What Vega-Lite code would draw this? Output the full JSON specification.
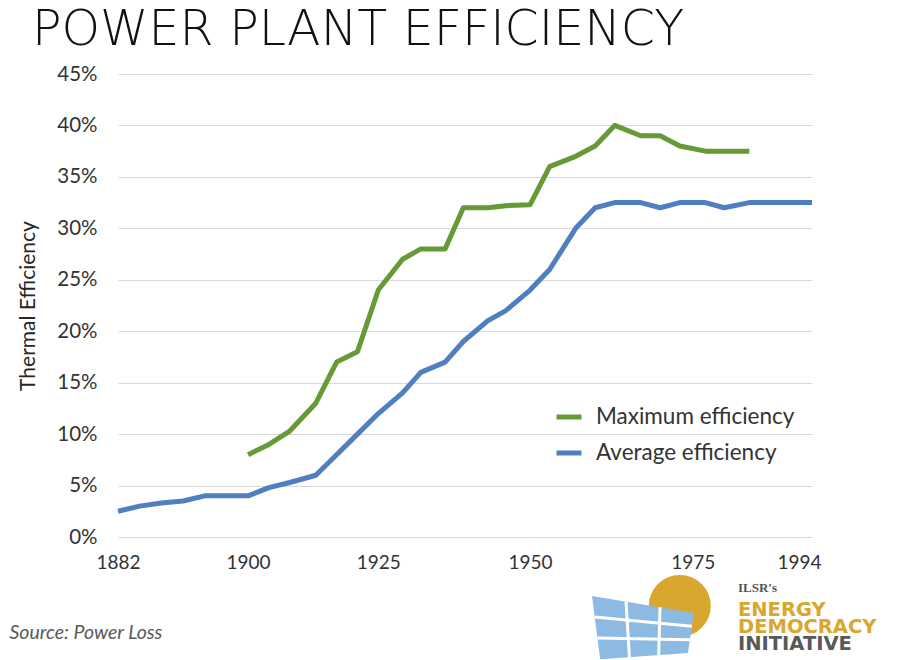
{
  "$schema": "https://vega.github.io/schema/vega-lite/v6.json",
  "width": 694,
  "height": 463,
  "autosize": {"type": "none"},
  "padding": {"left": 118, "top": 74, "right": 85, "bottom": 123},
  "background": "white",
  "config": {"view": {"stroke": null}, "font": "Lato"},
  "title": {
    "text": "POWER PLANT EFFICIENCY",
    "anchor": "start",
    "frame": "group",
    "font": "DejaVu Sans",
    "fontSize": 49,
    "fontWeight": 200,
    "color": "#111111",
    "dx": -86,
    "offset": 9
  },
  "layer": [
    {
      "data": {
        "values": [
          {"year": 1882, "series": "Average efficiency", "value": 0.025},
          {"year": 1885, "series": "Average efficiency", "value": 0.030},
          {"year": 1888, "series": "Average efficiency", "value": 0.033},
          {"year": 1891, "series": "Average efficiency", "value": 0.035},
          {"year": 1894, "series": "Average efficiency", "value": 0.040},
          {"year": 1897, "series": "Average efficiency", "value": 0.040},
          {"year": 1900, "series": "Average efficiency", "value": 0.040},
          {"year": 1904, "series": "Average efficiency", "value": 0.048},
          {"year": 1908, "series": "Average efficiency", "value": 0.053},
          {"year": 1913, "series": "Average efficiency", "value": 0.060},
          {"year": 1917, "series": "Average efficiency", "value": 0.080},
          {"year": 1921, "series": "Average efficiency", "value": 0.100},
          {"year": 1925, "series": "Average efficiency", "value": 0.120},
          {"year": 1929, "series": "Average efficiency", "value": 0.140},
          {"year": 1932, "series": "Average efficiency", "value": 0.160},
          {"year": 1936, "series": "Average efficiency", "value": 0.170},
          {"year": 1939, "series": "Average efficiency", "value": 0.190},
          {"year": 1943, "series": "Average efficiency", "value": 0.210},
          {"year": 1946, "series": "Average efficiency", "value": 0.220},
          {"year": 1950, "series": "Average efficiency", "value": 0.240},
          {"year": 1953, "series": "Average efficiency", "value": 0.260},
          {"year": 1957, "series": "Average efficiency", "value": 0.300},
          {"year": 1960, "series": "Average efficiency", "value": 0.320},
          {"year": 1963, "series": "Average efficiency", "value": 0.325},
          {"year": 1967, "series": "Average efficiency", "value": 0.325},
          {"year": 1970, "series": "Average efficiency", "value": 0.320},
          {"year": 1973, "series": "Average efficiency", "value": 0.325},
          {"year": 1977, "series": "Average efficiency", "value": 0.325},
          {"year": 1980, "series": "Average efficiency", "value": 0.320},
          {"year": 1984, "series": "Average efficiency", "value": 0.325},
          {"year": 1987, "series": "Average efficiency", "value": 0.325},
          {"year": 1991, "series": "Average efficiency", "value": 0.325},
          {"year": 1994, "series": "Average efficiency", "value": 0.325},
          {"year": 1900, "series": "Maximum efficiency", "value": 0.080},
          {"year": 1904, "series": "Maximum efficiency", "value": 0.090},
          {"year": 1908, "series": "Maximum efficiency", "value": 0.103},
          {"year": 1913, "series": "Maximum efficiency", "value": 0.130},
          {"year": 1917, "series": "Maximum efficiency", "value": 0.170},
          {"year": 1921, "series": "Maximum efficiency", "value": 0.180},
          {"year": 1925, "series": "Maximum efficiency", "value": 0.240},
          {"year": 1929, "series": "Maximum efficiency", "value": 0.270},
          {"year": 1932, "series": "Maximum efficiency", "value": 0.280},
          {"year": 1936, "series": "Maximum efficiency", "value": 0.280},
          {"year": 1939, "series": "Maximum efficiency", "value": 0.320},
          {"year": 1943, "series": "Maximum efficiency", "value": 0.320},
          {"year": 1946, "series": "Maximum efficiency", "value": 0.322},
          {"year": 1950, "series": "Maximum efficiency", "value": 0.323},
          {"year": 1953, "series": "Maximum efficiency", "value": 0.360},
          {"year": 1957, "series": "Maximum efficiency", "value": 0.370},
          {"year": 1960, "series": "Maximum efficiency", "value": 0.380},
          {"year": 1963, "series": "Maximum efficiency", "value": 0.400},
          {"year": 1967, "series": "Maximum efficiency", "value": 0.390},
          {"year": 1970, "series": "Maximum efficiency", "value": 0.390},
          {"year": 1973, "series": "Maximum efficiency", "value": 0.380},
          {"year": 1977, "series": "Maximum efficiency", "value": 0.375},
          {"year": 1980, "series": "Maximum efficiency", "value": 0.375},
          {"year": 1984, "series": "Maximum efficiency", "value": 0.375}
        ]
      },
      "mark": {"type": "line", "strokeWidth": 5, "strokeJoin": "round", "strokeCap": "butt"},
      "encoding": {
        "x": {
          "field": "year",
          "type": "quantitative",
          "scale": {
            "domain": [1882, 1900, 1925, 1950, 1975, 1994],
            "range": [0, 130.1, 260.3, 412.1, 574.8, 694],
            "nice": false,
            "zero": false
          },
          "axis": {
            "values": [1882, 1900, 1925, 1950, 1975, 1994],
            "format": "d",
            "grid": false,
            "domain": false,
            "ticks": false,
            "labelFont": "Lato",
            "labelFontSize": 19,
            "labelColor": "#333333",
            "labelBaseline": "alphabetic",
            "labelPadding": 31,
            "labelFlush": false,
            "labelOverlap": false,
            "labelAlign": {"condition": {"test": "datum.value === 1994", "value": "right"}, "value": "center"},
            "labelOffset": {"condition": {"test": "datum.value === 1994", "value": 9}, "value": 0},
            "title": "Source: Power Loss",
            "titleFont": "Lato",
            "titleFontStyle": "italic",
            "titleFontWeight": "normal",
            "titleFontSize": 19.5,
            "titleColor": "#595959",
            "titleAlign": "left",
            "titleBaseline": "alphabetic",
            "titleX": -109,
            "titleY": 101
          }
        },
        "y": {
          "field": "value",
          "type": "quantitative",
          "scale": {"domain": [0, 0.45], "nice": false},
          "axis": {
            "values": [0, 0.05, 0.1, 0.15, 0.2, 0.25, 0.3, 0.35, 0.4, 0.45],
            "format": ".0%",
            "grid": true,
            "gridColor": "#D9D9D9",
            "gridWidth": 1,
            "domain": false,
            "ticks": false,
            "labelFont": "Lato",
            "labelFontSize": 20.5,
            "labelColor": "#333333",
            "labelPadding": 21,
            "title": "Thermal Efficiency",
            "titleFont": "Lato",
            "titleFontSize": 21,
            "titleFontWeight": "normal",
            "titleColor": "#262626",
            "titleAngle": -90,
            "titleAlign": "center",
            "titleBaseline": "alphabetic",
            "titleX": -84,
            "titleY": 231.5
          }
        },
        "color": {
          "field": "series",
          "type": "nominal",
          "scale": {
            "domain": ["Maximum efficiency", "Average efficiency"],
            "range": ["#659A36", "#4F7FC0"]
          },
          "legend": {
            "title": null,
            "orient": "none",
            "legendX": 436,
            "legendY": 328,
            "padding": 0,
            "symbolType": "stroke",
            "symbolSize": 625,
            "symbolStrokeWidth": 5,
            "labelFont": "Lato",
            "labelFontSize": 22.5,
            "labelColor": "#333333",
            "labelOffset": 12,
            "labelLimit": 400,
            "rowPadding": 9
          }
        }
      }
    },
    {
      "data": {"values": [{"part": "sun"}]},
      "mark": {"type": "point", "shape": "circle", "filled": true, "color": "#D9A62E", "opacity": 1, "size": 3844},
      "encoding": {"x": {"datum": 1973}, "y": {"datum": -0.067}}
    },
    {
      "data": {"values": [{"part": "panel"}]},
      "mark": {
        "type": "point",
        "shape": "M -1 -0.57 L 1 -0.235 L 0.88 0.55 L -0.84 0.67 Z",
        "filled": true,
        "color": "#8DBAE2",
        "opacity": 1,
        "size": 10404
      },
      "encoding": {"x": {"datum": 1967.35}, "y": {"datum": -0.0855}}
    },
    {
      "data": {"values": [{"part": "panel grid"}]},
      "mark": {
        "type": "point",
        "shape": "M -0.333 -0.458 L -0.267 0.63 M 0.333 -0.347 L 0.307 0.59 M -0.947 -0.157 L 0.96 0.027 M -0.893 0.257 L 0.92 0.288",
        "filled": false,
        "stroke": "white",
        "strokeWidth": 3,
        "opacity": 1,
        "size": 10404
      },
      "encoding": {"x": {"datum": 1967.35}, "y": {"datum": -0.0855}}
    },
    {
      "data": {"values": [{"label": "ILSR's"}]},
      "mark": {"type": "text", "align": "left", "baseline": "alphabetic", "font": "Liberation Serif", "fontWeight": "bold", "fontSize": 13, "color": "#555555"},
      "encoding": {"x": {"datum": 1982.2}, "y": {"datum": -0.0535}, "text": {"field": "label"}}
    },
    {
      "data": {"values": [{"label": "ENERGY"}]},
      "mark": {"type": "text", "align": "left", "baseline": "alphabetic", "font": "DejaVu Sans", "fontWeight": "bold", "fontSize": 19.5, "color": "#D9A62E"},
      "encoding": {"x": {"datum": 1982.2}, "y": {"datum": -0.0768}, "text": {"field": "label"}}
    },
    {
      "data": {"values": [{"label": "DEMOCRACY"}]},
      "mark": {"type": "text", "align": "left", "baseline": "alphabetic", "font": "DejaVu Sans", "fontWeight": "bold", "fontSize": 19.5, "color": "#D9A62E"},
      "encoding": {"x": {"datum": 1982.2}, "y": {"datum": -0.0933}, "text": {"field": "label"}}
    },
    {
      "data": {"values": [{"label": "INITIATIVE"}]},
      "mark": {"type": "text", "align": "left", "baseline": "alphabetic", "font": "DejaVu Sans", "fontWeight": "bold", "fontSize": 19.5, "color": "#58595B"},
      "encoding": {"x": {"datum": 1982.2}, "y": {"datum": -0.1098}, "text": {"field": "label"}}
    }
  ]
}
